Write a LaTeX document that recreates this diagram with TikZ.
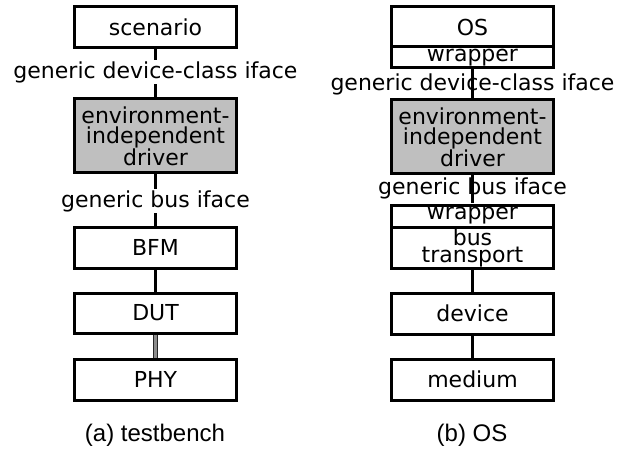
\documentclass[tikz,border=0pt]{standalone}
\usepackage{fontspec}
\setmainfont{DejaVu Sans}
\newfontfamily\capfont{Liberation Sans}
\begin{document}
\begin{tikzpicture}[x=1pt,y=-1pt,
  box/.style={draw=black,line width=3pt,minimum width=162pt,inner sep=0pt,
    align=center,font=\fontsize{22}{20}\selectfont},
  shaded/.style={box,fill=black!25},
  link/.style={line width=3pt},
  physlink/.style={draw=black!85,line width=1.1pt,double=black!45,double distance=2.4pt},
  iface/.style={inner sep=1pt,font=\fontsize{22}{24}\selectfont},
  caption/.style={font=\capfont\fontsize{24}{26}\selectfont}]
\useasboundingbox (0,0) rectangle (618,449);

% (a) testbench stack
\node[box,minimum height=41pt] (scen) at (155.5,27.5) {scenario};
\node[shaded,minimum height=74pt] (drvA) at (155.5,136) {environment-\\independent\\driver};
\node[box,minimum height=41pt] (bfm) at (155.5,247.5) {BFM};
\node[box,minimum height=40pt] (dut) at (155.5,313) {DUT};
\node[box,minimum height=41pt] (phy) at (155.5,379.5) {PHY};

\draw[link] (scen) -- (drvA);
\draw[link] (drvA) -- (bfm);
\draw[link] (bfm) -- (dut);
\draw[physlink] (dut) -- (phy);
\node[iface,fill=white] (ifA1) at (155.5,72) {generic device-class iface};
\node[iface,fill=white] (ifA2) at (155.5,201) {generic bus iface};
\node[caption] (capA) at (155,435) {(a) testbench};

% (b) OS stack
\node[box,minimum height=40pt] (os) at (472.5,27) {OS};
\node[box,minimum height=21pt] (wrapA) at (472.5,57.5) {wrapper};
\node[shaded,minimum height=74pt] (drvB) at (472.5,137) {environment-\\independent\\driver};
\node[box,minimum height=22pt] (wrapB) at (472.5,216) {wrapper};
\node[box,minimum height=41pt,font=\fontsize{22}{17}\selectfont] (bus) at (472.5,247.5) {bus\\transport};
\node[box,minimum height=41pt] (dev) at (472.5,313.5) {device};
\node[box,minimum height=41pt] (med) at (472.5,379.5) {medium};

\draw[link] (wrapA) -- (drvB);
\draw[link] (drvB) -- (wrapB);
\draw[link] (bus) -- (dev);
\draw[link] (dev) -- (med);
\node[iface] (ifB1) at (472.5,84) {generic device-class iface};
\node[iface] (ifB2) at (472.5,188) {generic bus iface};
\node[caption] (capB) at (472,435) {(b) OS};
\end{tikzpicture}
\end{document}
